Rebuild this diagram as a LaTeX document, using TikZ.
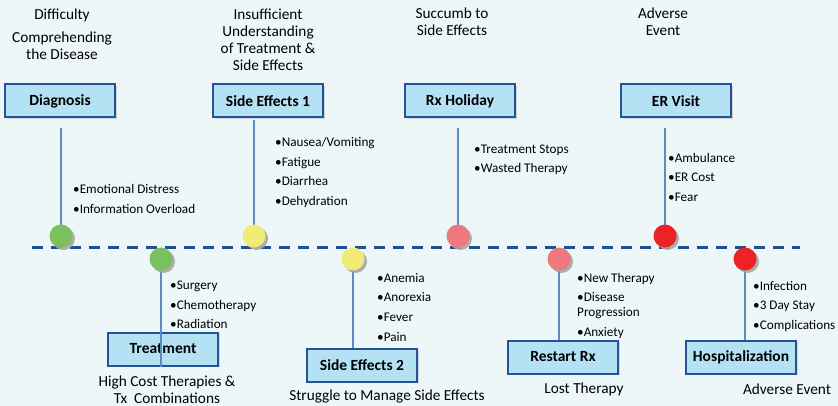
\documentclass[tikz,border=0pt]{standalone}
\usepackage{fontspec}
\setmainfont{Carlito}
\usetikzlibrary{positioning,shadows}

\definecolor{bgcol}{RGB}{238,247,248}
\definecolor{boxfill}{RGB}{180,226,244}
\definecolor{boxline}{RGB}{36,84,150}
\definecolor{stemcol}{RGB}{92,140,196}
\definecolor{dashcol}{RGB}{28,80,145}
\definecolor{dotgreen}{RGB}{122,192,92}
\definecolor{dotyellow}{RGB}{240,236,118}
\definecolor{dotpink}{RGB}{238,120,124}
\definecolor{dotred}{RGB}{236,34,36}

\begin{document}
\begin{tikzpicture}[x=1pt,y=-1pt,
    stage/.style={draw=boxline,line width=2pt,fill=boxfill,minimum width=110pt,minimum height=33pt,inner sep=0pt,
      drop shadow={shadow xshift=1.5pt,shadow yshift=-1.5pt,fill=gray!50,opacity=.6},
      font=\fontsize{15.5}{18}\selectfont\bfseries},
    dot/.style={circle,minimum size=23pt,inner sep=0pt,
      drop shadow={shadow xshift=2.5pt,shadow yshift=-2.5pt,fill=gray!70,opacity=.9}},
    stem/.style={draw=stemcol,line width=1.3pt},
    capnote/.style={align=center,inner sep=0pt,font=\fontsize{15.3}{17}\selectfont},
    items/.style={align=left,anchor=north west,inner sep=0pt,font=\fontsize{13.2}{15}\selectfont}]
  \fill[bgcol] (0,0) rectangle (838,406);
  \useasboundingbox (0,0) rectangle (838,406);

  % time line
  \coordinate (t0) at (32,248);
  \coordinate (t1) at (800,248);
  \draw[dashcol,line width=3pt,dash pattern=on 11pt off 8pt] (t0) -- (t1);

  % stages above the line
  \node[stage] (diag) at (60,101) {Diagnosis};
  \node[stage] (se1) at (268,101) {Side Effects 1};
  \node[stage] (rxh) at (460,101) {Rx Holiday};
  \node[stage] (er) at (676,101) {ER Visit};

  % stages below the line
  \node[stage] (treat) at (163,349) {Treatment};
  \node[stage] (se2) at (362,365) {Side Effects 2};
  \node[stage] (rst) at (563,357) {Restart Rx};
  \node[stage] (hosp) at (741,357) {Hospitalization};

  % points on the line
  \coordinate (p1) at (61,236);
  \coordinate (p2) at (254,236);
  \coordinate (p3) at (458,236);
  \coordinate (p4) at (665,236);
  \coordinate (p5) at (161,259);
  \coordinate (p6) at (353,259);
  \coordinate (p7) at (559,259);
  \coordinate (p8) at (745,259);

  \draw[stem,shorten >=10pt] (p1) -- (p1 |- diag.south);
  \draw[stem,shorten >=2pt] (p2) -- (p2 |- se1.south);
  \draw[stem,shorten >=10pt] (p3) -- (p3 |- rxh.south);
  \draw[stem,shorten >=10pt] (p4) -- (p4 |- er.south);
  \draw[stem] (p5) -- (p5 |- treat.south);
  \draw[stem] (p6) -- (p6 |- se2.north);
  \draw[stem] (p7) -- (p7 |- rst.north);
  \draw[stem] (p8) -- (p8 |- hosp.north);

  \node[dot,fill=dotgreen] (d1) at (p1) {};
  \node[dot,fill=dotyellow] (d2) at (p2) {};
  \node[dot,fill=dotpink] (d3) at (p3) {};
  \node[dot,fill=dotred] (d4) at (p4) {};
  \node[dot,fill=dotgreen] (d5) at (p5) {};
  \node[dot,fill=dotyellow] (d6) at (p6) {};
  \node[dot,fill=dotpink] (d7) at (p7) {};
  \node[dot,fill=dotred] (d8) at (p8) {};

  % captions
  \node[capnote] (diagcapa) at (62,15) {Difficulty};
  \node[capnote] (diagcapb) at (62,46) {Comprehending\\the Disease};
  \node[capnote] (se1cap) at (268,40) {Insufficient\\Understanding\\of Treatment \&\\Side Effects};
  \node[capnote] (rxhcap) at (452,22) {Succumb to\\Side Effects};
  \node[capnote] (ercap) at (663,22) {Adverse\\Event};
  \node[capnote] (treatcap) at (167,390) {High Cost Therapies \&\\Tx\ \ Combinations};
  \node[capnote] (se2cap) at (387,397) {Struggle to Manage Side Effects};
  \node[capnote] (rstcap) at (584,389) {Lost Therapy};
  \node[capnote] (hospcap) at (787,389) {Adverse Event};

  % bullet lists
  \node[items] (diaglist) at (73,184) {•Emotional Distress\\[5pt]•Information Overload};
  \node[items] (se1list) at (275,137) {•Nausea/Vomiting\\[4.7pt]•Fatigue\\[4.7pt]•Diarrhea\\[4.7pt]•Dehydration};
  \node[items] (rxhlist) at (474,145) {•Treatment Stops\\[4pt]•Wasted Therapy};
  \node[items] (erlist) at (668,153) {•Ambulance\\[4.5pt]•ER Cost\\[4.5pt]•Fear};
  \node[items] (treatlist) at (170,281) {•Surgery\\[4.5pt]•Chemotherapy\\[4.5pt]•Radiation};
  \node[items] (se2list) at (377,273) {•Anemia\\[4.5pt]•Anorexia\\[5pt]•Fever\\[4.5pt]•Pain};
  \node[items] (rstlist) at (577,273) {•New Therapy\\[4pt]•Disease\\Progression\\[5pt]•Anxiety};
  \node[items] (hosplist) at (753,281) {•Infection\\[4.5pt]•3 Day Stay\\[5pt]•Complications};
\end{tikzpicture}
\end{document}
